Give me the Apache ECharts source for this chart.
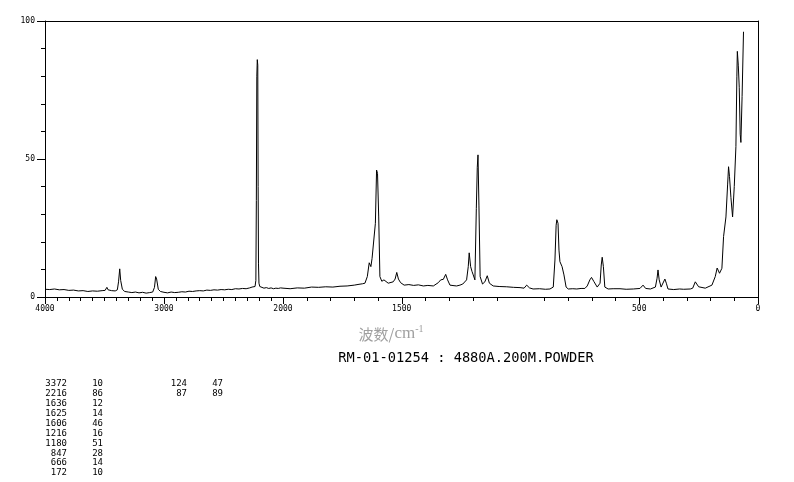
<!DOCTYPE html>
<html><head><meta charset="utf-8">
<script src="https://cdn.jsdelivr.net/npm/echarts@6/dist/echarts.min.js"></script>
<style>html,body{margin:0;padding:0;background:#fff}#c{width:794px;height:482px}</style>
</head><body><div id="c"></div>
<script>
// Raman spectrum: wavenumber (cm-1) and relative intensity
const wavenumbers = [
 4000,3960,3920,3880,3840,3800,3760,3720,3680,3640,3600,3560,3520,3495,3480,3470,3440,3410,3392,3382,
 3372,3364,3350,3330,3300,3270,3240,3210,3180,3150,3120,3095,3080,3070,3062,3056,3048,3030,3000,2970,
 2940,2910,2880,2850,2820,2790,2760,2730,2700,2670,2640,2610,2580,2550,2520,2490,2460,2430,2400,2370,
 2340,2310,2280,2260,2245,2235,2228,2224,2220,2216,2212,2209,2206,2202,2195,2180,2160,2140,2120,2100,
 2080,2060,2040,2020,2000,
 1970,1940,1910,1880,1850,1820,1790,1760,1730,1700,1680,1665,1655,1645,1637,1630,1625,1617,1611,1606,
 1602,1597,1592,1584,1575,1557,1536,1528,1521,1514,1505,1490,1470,1450,1430,1409,1390,1367,1346,1336,
 1325,1315,1307,1297,1280,1269,1255,1243,1227,1220,1216,1210,1204,1199,1192,1186,1182,1179,1175,1170,
 1160,1150,1140,1131,1115,1090,1058,1030,1002,985,974,970,962,947,920,895,876,862,855,850,
 847,842,838,834,825,817,808,799,780,763,745,729,719,708,701,691,677,670,665,660,
 656,651,645,631,610,581,555,525,497,484,473,453,432,425,421,416,408,400,392,386,
 379,355,330,313,285,275,264,250,222,194,180,172,162,152,145,135,128,124,120,114,
 107,100,93,89,87,83,79,75,72,67,61
];
const intensity = [
 2.8,2.7,2.9,2.6,2.7,2.4,2.5,2.2,2.3,2.0,2.2,2.1,2.3,2.4,3.5,2.6,2.3,2.2,2.6,5.5,
 10.2,6.0,2.8,2.0,1.8,1.6,1.8,1.5,1.7,1.4,1.6,1.8,3.5,7.4,6.5,6.0,2.8,2.0,1.7,1.5,
 1.8,1.6,1.7,1.9,1.8,2.1,2.0,2.2,2.3,2.2,2.5,2.4,2.6,2.5,2.7,2.6,2.8,2.7,3.0,2.9,
 3.1,3.0,3.3,3.6,3.4,3.8,6.0,35,80,86,84,40,12,5.0,3.8,3.5,3.2,3.4,3.1,3.3,
 3.0,3.2,3.1,3.3,3.2,
 3.0,3.3,3.2,3.6,3.5,3.7,3.6,3.9,4.0,4.3,4.6,4.8,5.0,7.4,12.4,11.0,14.0,13.5,26.7,46.0,
 44.8,29.0,7.4,5.7,6.2,5.0,5.5,6.5,8.9,6.5,5.2,4.3,4.5,4.2,4.4,4.0,4.2,4.0,5.2,6.2,
 6.4,8.2,6.2,4.3,4.1,4.0,4.3,4.7,6.2,11.0,16.0,11.0,9.2,8.0,6.2,32.0,47.0,51.5,33.0,7.4,
 4.7,5.5,7.7,5.0,4.0,3.8,3.7,3.5,3.4,3.2,4.3,5.0,3.3,2.9,3.0,2.8,2.9,3.6,13.4,26.0,
 28.0,26.7,17.0,12.8,11.0,8.0,3.6,2.9,3.0,2.9,3.1,3.1,4.0,6.2,7.1,5.6,3.6,4.2,5.0,11.6,
 14.4,11.0,3.6,2.9,3.0,3.0,2.8,2.9,3.1,4.3,3.1,2.9,3.6,6.8,9.8,6.2,3.6,4.0,6.5,5.0,
 2.9,2.7,2.9,2.8,2.9,3.2,5.5,3.7,3.2,4.3,7.4,10.5,8.6,10.4,21.9,29.0,40.6,47.2,43.6,36.0,
 29.0,40.0,54.5,80.0,89.0,84.0,76.0,59.0,56.0,72.6,96.1
];
const xLabelsLeft = [4000, 3000];
const xLabelsRight = [2000, 1500, 500, 0];
const xMajorTicksRight = [2000, 1500, 500, 0];
const yLabels = [0, 50, 100];
const peakWavenumbers = [3372,2216,1636,1625,1606,1216,1180,847,666,172,124,87];
const peakIntensities = [10,86,12,14,46,16,51,28,14,10,47,89];
const sampleTitle = 'RM-01-01254 : 4880A.200M.POWDER';

const mono = '"DejaVu Sans Mono", "Liberation Mono", monospace';
const black = '#000';

const leftData = [], rightData = [];
wavenumbers.forEach((w, i) => {
  if (w >= 2000) leftData.push([w, intensity[i]]);
  if (w <= 2000) rightData.push([w, intensity[i]]);
});

function ls() { return { color: black, width: 1 }; }
function labelStyle(vals, margin) {
  return { show: true, customValues: vals, margin: margin, fontFamily: mono, fontSize: 8,
    color: black, formatter: v => String(v) };
}

function xAx(grid, min, max, extra) {
  return Object.assign({
    type: 'value', gridIndex: grid, min: min, max: max, inverse: true,
    splitLine: { show: false }, minorSplitLine: { show: false },
    axisLine: { show: false, onZero: false, lineStyle: ls() },
    axisTick: { show: false },
    axisLabel: { show: false }
  }, extra);
}

const option = {
  backgroundColor: '#fff',
  animation: false,
  grid: [
    { left: 45, top: 21, width: 238, height: 276 },
    { left: 283, top: 21, width: 475, height: 276 }
  ],
  xAxis: [
    xAx(0, 2000, 4000, { position: 'bottom', interval: 1000,
      axisLine: { show: true, onZero: false, lineStyle: ls() },
      axisTick: { show: true, length: 7, lineStyle: ls() },
      minorTick: { show: true, splitNumber: 10, length: 4, lineStyle: ls() },
      axisLabel: labelStyle(xLabelsLeft, 8) }),
    xAx(0, 2000, 4000, { position: 'top',
      axisLine: { show: true, onZero: false, lineStyle: ls() } }),
    xAx(1, 0, 2000, { position: 'bottom', interval: 500,
      axisLine: { show: true, onZero: false, lineStyle: ls() },
      axisTick: { show: true, length: 7, customValues: xMajorTicksRight, lineStyle: ls() },
      minorTick: { show: true, splitNumber: 5, length: 4, lineStyle: ls() },
      axisLabel: labelStyle(xLabelsRight, 8) }),
    xAx(1, 0, 2000, { position: 'top',
      axisLine: { show: true, onZero: false, lineStyle: ls() } })
  ],
  yAxis: [
    { type: 'value', gridIndex: 0, position: 'left', min: 0, max: 100, interval: 50,
      splitLine: { show: false }, minorSplitLine: { show: false },
      axisLine: { show: true, onZero: false, lineStyle: ls() },
      axisTick: { show: true, length: 8, lineStyle: ls() },
      minorTick: { show: true, splitNumber: 5, length: 4, lineStyle: ls() },
      axisLabel: labelStyle(yLabels, 10) },
    { type: 'value', gridIndex: 1, position: 'right', min: 0, max: 100,
      splitLine: { show: false },
      axisLine: { show: true, onZero: false, lineStyle: ls() },
      axisTick: { show: false }, axisLabel: { show: false } }
  ],
  series: [
    { type: 'line', xAxisIndex: 0, yAxisIndex: 0, data: leftData, showSymbol: false,
      symbol: 'none', lineStyle: { color: black, width: 1 }, silent: true },
    { type: 'line', xAxisIndex: 2, yAxisIndex: 1, data: rightData, showSymbol: false,
      symbol: 'none', lineStyle: { color: black, width: 1 }, silent: true }
  ],
  graphic: [
    { type: 'text', x: 391, y: 334, silent: true,
      style: { text: '{a|波数/}{b|cm}{c|-1}', align: 'center', verticalAlign: 'middle',
        rich: {
          a: { fontFamily: '"Noto Sans CJK SC"', fontSize: 15, fill: '#a0a0a0' },
          b: { fontFamily: '"Liberation Serif", "DejaVu Serif", serif', fontSize: 17, fill: '#a0a0a0' },
          c: { fontFamily: '"Liberation Serif", "DejaVu Serif", serif', fontSize: 10, fill: '#a0a0a0', verticalAlign: 'top', padding: [0, 0, 10, 0] }
        } } },
    { type: 'text', x: 466, y: 358, silent: true,
      style: { text: sampleTitle, align: 'center', verticalAlign: 'middle',
        font: '13.7px ' + mono, fill: black } },
    { type: 'text', x: 67, y: 379, silent: true,
      style: { text: peakWavenumbers.slice(0, 10).join('\n'), align: 'right', verticalAlign: 'top',
        font: '9px ' + mono, lineHeight: 9.9, fill: black } },
    { type: 'text', x: 103, y: 379, silent: true,
      style: { text: peakIntensities.slice(0, 10).join('\n'), align: 'right', verticalAlign: 'top',
        font: '9px ' + mono, lineHeight: 9.9, fill: black } },
    { type: 'text', x: 187, y: 379, silent: true,
      style: { text: peakWavenumbers.slice(10).join('\n'), align: 'right', verticalAlign: 'top',
        font: '9px ' + mono, lineHeight: 9.9, fill: black } },
    { type: 'text', x: 223, y: 379, silent: true,
      style: { text: peakIntensities.slice(10).join('\n'), align: 'right', verticalAlign: 'top',
        font: '9px ' + mono, lineHeight: 9.9, fill: black } }
  ]
};
const chart = echarts.init(document.getElementById('c'), null, { renderer: 'canvas' });
chart.setOption(option);
</script>
</body></html>
